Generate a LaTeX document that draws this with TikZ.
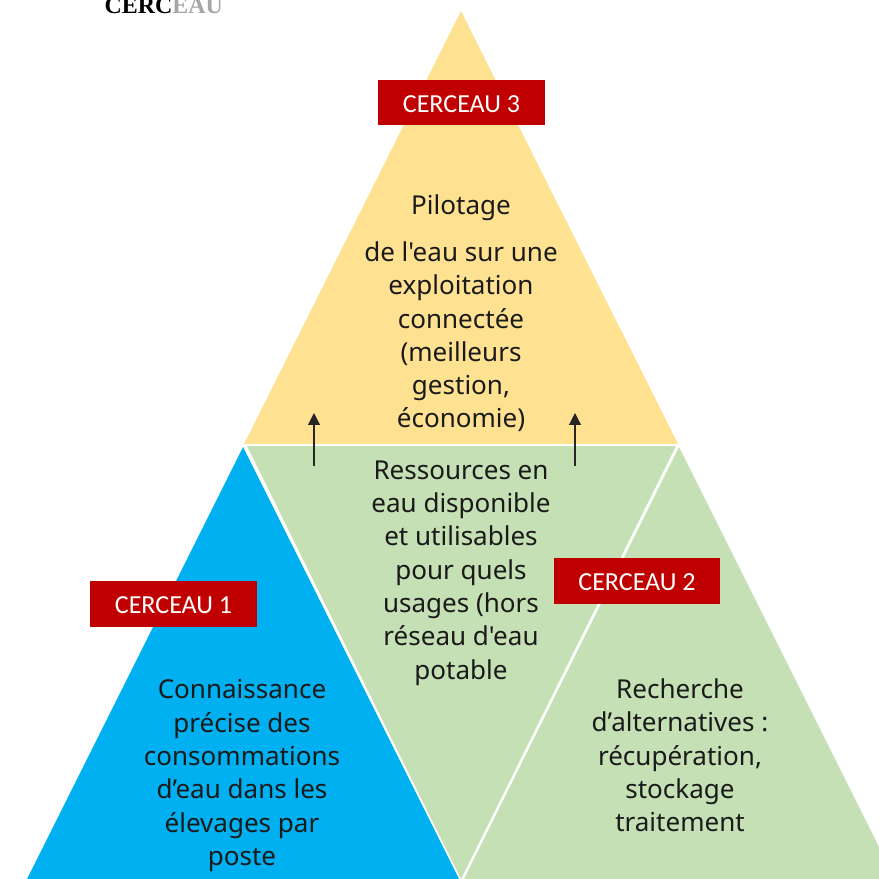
\documentclass[tikz,border=0pt]{standalone}
\usepackage{fontspec}
\newfontfamily\bodyfont{Noto Sans}
\newfontfamily\labelfont{Carlito}
\newfontfamily\logofont{Liberation Serif}
\usetikzlibrary{arrows.meta}
\definecolor{topyellow}{HTML}{FFE192}
\definecolor{paleGreen}{HTML}{C5E0B4}
\definecolor{skyBlue}{HTML}{00B0F0}
\definecolor{darkRed}{HTML}{C00000}
\definecolor{inkText}{HTML}{1A1A1A}
\tikzset{
  x=0.01cm,y=-0.01cm,
  redbox/.style={fill=darkRed,text=white,minimum width=1.66cm,minimum height=0.455cm,inner sep=0pt,text height=0.194cm,text depth=0pt,font=\labelfont\fontsize{7.4pt}{8pt}\selectfont},
  body/.style={align=center,inner sep=0pt,text=inkText,font=\bodyfont\fontsize{7.4pt}{9.47pt}\selectfont},
  uparrow/.style={draw=black!85,line width=0.33pt,-{Triangle[length=3.4pt,width=3.4pt]}}
}
\begin{document}
\begin{tikzpicture}
\useasboundingbox (0,0) rectangle (879,879);
\clip (0,0) rectangle (879,879);
\fill[topyellow] (461,11) -- (678,444) -- (244,444) -- cycle;
\fill[skyBlue] (243,447) -- (459,879) -- (27,879) -- cycle;
\fill[paleGreen] (247,446) -- (676,446) -- (461,879) -- cycle;
\fill[paleGreen] (679,447) -- (895,879) -- (464,879) -- cycle;
\node[anchor=base west,inner sep=0pt,font=\logofont\bfseries\fontsize{6.8pt}{8pt}\selectfont] (logo) at (104,14) {CERC\textcolor{black!35}{EAU}};
\node[redbox] (c3) at (461.5,102.5) {CERCEAU 3};
\node[redbox] (c1) at (173.5,604) {CERCEAU 1};
\node[redbox] (c2) at (637,581) {CERCEAU 2};
\node[body,anchor=base] (pil) at (461,215) {Pilotage};
\node[body,anchor=north] (t3) at (461,241) {de l'eau sur une\\exploitation\\connectée\\(meilleurs\\gestion,\\économie)};
\node[body,anchor=north] (t0) at (461,460) {Ressources en\\eau disponible\\et utilisables\\pour quels\\usages (hors\\réseau d'eau\\potable};
\node[body,anchor=north] (t1) at (242,679) {Connaissance\\précise des\\consommations\\d’eau dans les\\élevages par\\poste};
\node[body,anchor=north] (t2) at (680,678) {Recherche\\d’alternatives :\\récupération,\\stockage\\traitement};
\coordinate (a1) at (314,466); \coordinate (b1) at (314,413);
\coordinate (a2) at (575,466); \coordinate (b2) at (575,413);
\draw[uparrow] (a1) -- (b1);
\draw[uparrow] (a2) -- (b2);
\end{tikzpicture}
\end{document}
